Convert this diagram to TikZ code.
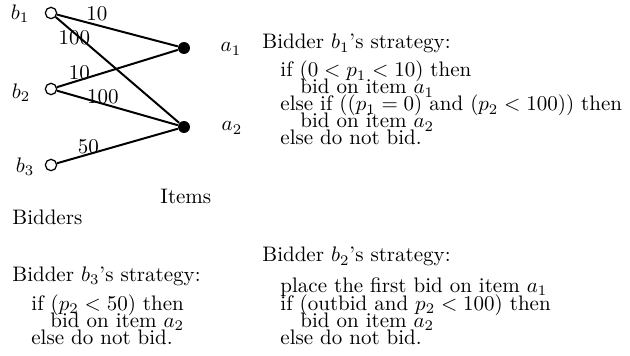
\documentclass[tikz,border=0pt]{standalone}
\begin{document}
\begin{tikzpicture}[x=0.47619pt,y=-0.47619pt,
  bidder/.style={circle,draw,line width=0.6pt,minimum size=5.4pt,inner sep=0pt},
  item/.style={circle,fill,minimum size=5.7pt,inner sep=0pt},
  edge/.style={line width=0.95pt},
  wlabel/.style={inner sep=0pt},
  lbl/.style={inner sep=0pt},
  txt/.style={anchor=base west,inner sep=0pt}]
\useasboundingbox (0,0) rectangle (630,356);
% graph nodes
\node[bidder] (b1) at (51,13) {};
\node[bidder] (b2) at (51,89) {};
\node[bidder] (b3) at (51,165) {};
\node[item] (a1) at (184,48) {};
\node[item] (a2) at (184,127) {};
\node[lbl] (lb1) at (20,14) {$b_1$};
\node[lbl] (lb2) at (21,93) {$b_2$};
\node[lbl] (lb3) at (25,167) {$b_3$};
\node[lbl] (la1) at (231,49) {$a_1$};
\node[lbl] (la2) at (232,128) {$a_2$};
% edges
\draw[edge] (b1) -- (a1) node[wlabel,pos=0.33,yshift=5.2pt] {10};
\draw[edge] (b1) -- (a2) node[wlabel,pos=0.15,yshift=-2.5pt] {100};
\draw[edge] (b2) -- (a1) node[wlabel,pos=0.185,yshift=3.5pt] {10};
\draw[edge] (b2) -- (a2) node[wlabel,pos=0.38,yshift=3.3pt] {100};
\draw[edge] (b3) -- (a2) node[wlabel,pos=0.26,yshift=3.5pt] {50};
\node[txt] (items) at (160,204) {Items};
\node[txt] (bidders) at (12,225) {Bidders};
% bidder 1 strategy
\node[txt] (s1h) at (262,49) {Bidder $b_1$'s strategy:};
\node[txt] (s1a) at (280,77) {if $(0 < p_1 < 10)$ then};
\node[txt] (s1b) at (300,94) {bid on item $a_1$};
\node[txt] (s1c) at (280,111) {else if $((p_1 = 0)$ and $(p_2 < 100))$ then};
\node[txt] (s1d) at (300,128) {bid on item $a_2$};
\node[txt] (s1e) at (280,145) {else do not bid.};
% bidder 2 strategy
\node[txt] (s2h) at (262,262) {Bidder $b_2$'s strategy:};
\node[txt] (s2a) at (280,292) {place the first bid on item $a_1$};
\node[txt] (s2b) at (280,310) {if (outbid and $p_2 < 100$) then};
\node[txt] (s2c) at (300,327) {bid on item $a_2$};
\node[txt] (s2d) at (280,344) {else do not bid.};
% bidder 3 strategy
\node[txt] (s3h) at (12,281) {Bidder $b_3$'s strategy:};
\node[txt] (s3a) at (31,310) {if $(p_2 < 50)$ then};
\node[txt] (s3b) at (50,327) {bid on item $a_2$};
\node[txt] (s3c) at (31,344) {else do not bid.};
\end{tikzpicture}
\end{document}
